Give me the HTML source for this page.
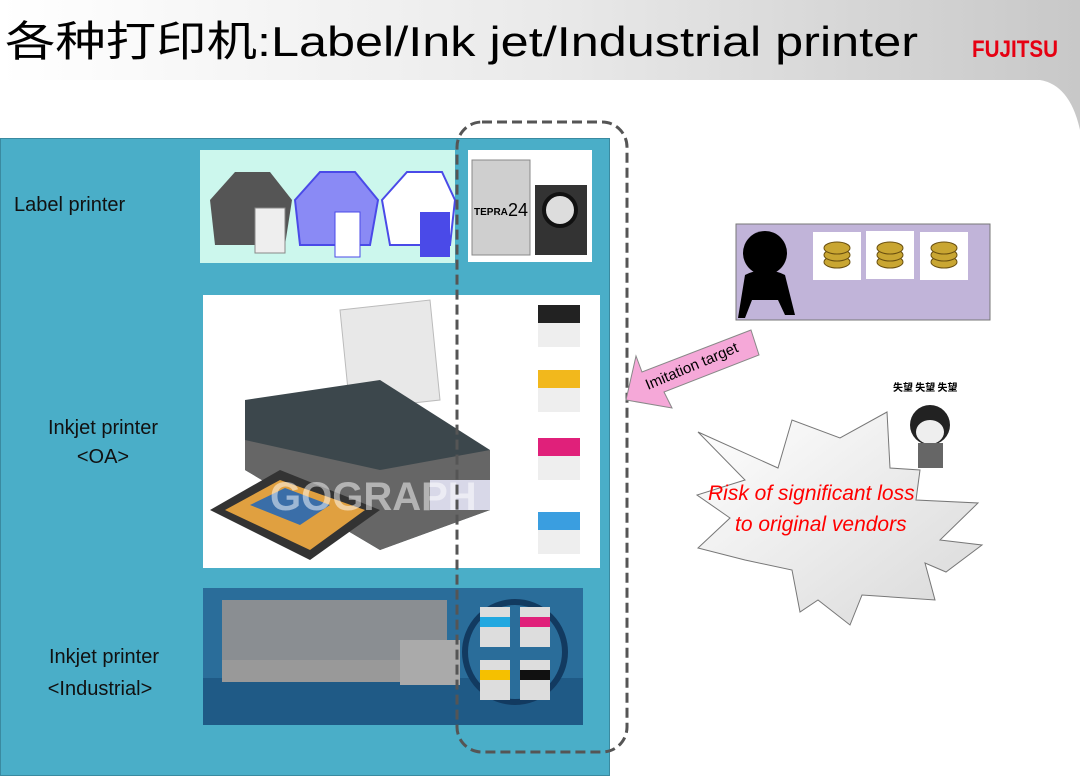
<!DOCTYPE html><html><head><meta charset="utf-8"><style>body{margin:0;width:1080px;height:779px;overflow:hidden;background:#fff}svg{display:block}</style></head><body>
<svg width="1080" height="779" viewBox="0 0 1080 779" xmlns="http://www.w3.org/2000/svg">
<defs>
<linearGradient id="hd" x1="0" x2="1"><stop offset="0" stop-color="#ffffff"/><stop offset="0.5" stop-color="#eaeaea"/><stop offset="1" stop-color="#c8c8c8"/></linearGradient>
<linearGradient id="st" x1="0" y1="0" x2="1" y2="1"><stop offset="0" stop-color="#ffffff"/><stop offset="1" stop-color="#d8d8d8"/></linearGradient>
</defs>
<rect x="0" y="0" width="1080" height="779" fill="#fff"/>
<path d="M0 0H1080V130Q1070 85 1040 80H0Z" fill="url(#hd)"/>
<text x="5" y="56" font-family="'Liberation Sans','Noto Sans CJK SC',sans-serif" font-size="42" textLength="913" lengthAdjust="spacingAndGlyphs">各种打印机:Label/Ink jet/Industrial printer</text>
<text x="972" y="57" font-family="'Liberation Sans',sans-serif" font-weight="bold" font-size="24" fill="#e60012" textLength="86" lengthAdjust="spacingAndGlyphs">FUJITSU</text>
<!-- blue panel -->
<rect x="0.5" y="138.5" width="609" height="637" fill="#4aaec8" stroke="#3a8aa0"/>
<rect x="200" y="150" width="255" height="113" fill="#ccf7ed"/>
<rect x="468" y="150" width="124" height="112" fill="#fff"/>
<!-- label printers -->
<path d="M210 200L235 172H270L292 200L285 245H215Z" fill="#555"/><rect x="255" y="208" width="30" height="45" fill="#eee" stroke="#888"/>
<path d="M295 200L320 172H355L378 200L370 245H300Z" fill="#8a8af5" stroke="#4a4ae8" stroke-width="2"/><rect x="335" y="212" width="25" height="45" fill="#fff" stroke="#4a4ae8"/>
<path d="M382 200L407 172H442L455 200L450 245H390Z" fill="#fff" stroke="#4a4ae8" stroke-width="2"/><rect x="420" y="212" width="30" height="45" fill="#4a4ae8"/>
<rect x="472" y="160" width="58" height="95" fill="#cfcfcf" stroke="#888"/>
<text x="474" y="215" font-family="'Liberation Sans',sans-serif" font-size="10" font-weight="bold">TEPRA</text><text x="508" y="216" font-family="'Liberation Sans',sans-serif" font-size="18">24</text>
<rect x="535" y="185" width="52" height="70" fill="#333"/><circle cx="560" cy="210" r="16" fill="#ddd" stroke="#111" stroke-width="4"/>
<!-- inkjet -->
<rect x="203" y="295" width="397" height="273" fill="#fff"/>
<path d="M340 310L430 300L440 400L350 410Z" fill="#e8e8e8" stroke="#bbb"/>
<path d="M245 400L380 380L490 450L490 510L380 550L245 470Z" fill="#3c474c"/>
<path d="M245 440L380 470L490 450L490 510L380 550L245 470Z" fill="#666"/>
<path d="M210 510L280 470L380 510L310 560Z" fill="#333"/>
<path d="M225 510L280 480L365 510L310 550Z" fill="#e0a040"/>
<path d="M250 505L285 488L330 505L300 525Z" fill="#3a6ea8"/>
<rect x="430" y="480" width="60" height="30" fill="#d8d8e8"/>
<g font-family="'Liberation Sans',sans-serif" font-size="40" font-weight="bold" fill="#fff" fill-opacity="0.5"><text x="270" y="510">GOGRAPH</text></g>
<rect x="538" y="305" width="42" height="42" fill="#eee"/><rect x="538" y="305" width="42" height="18" fill="#222"/>
<rect x="538" y="370" width="42" height="42" fill="#eee"/><rect x="538" y="370" width="42" height="18" fill="#f2b81c"/>
<rect x="538" y="438" width="42" height="42" fill="#eee"/><rect x="538" y="438" width="42" height="18" fill="#e0207a"/>
<rect x="538" y="512" width="42" height="42" fill="#eee"/><rect x="538" y="512" width="42" height="18" fill="#3a9ee0"/>
<!-- industrial -->
<rect x="203" y="588" width="380" height="137" fill="#2a6d9a"/>
<rect x="203" y="678" width="380" height="47" fill="#1f5a86"/>
<rect x="222" y="600" width="225" height="80" fill="#8a8e92"/><rect x="222" y="660" width="230" height="22" fill="#999"/>
<rect x="400" y="640" width="60" height="45" fill="#aaa"/>
<circle cx="515" cy="652" r="50" fill="#2a6d9a" stroke="#123a60" stroke-width="6"/>
<rect x="480" y="607" width="30" height="40" fill="#ddd"/><rect x="480" y="617" width="30" height="10" fill="#22a8e0"/>
<rect x="520" y="607" width="30" height="40" fill="#ddd"/><rect x="520" y="617" width="30" height="10" fill="#e0207a"/>
<rect x="480" y="660" width="30" height="40" fill="#ddd"/><rect x="480" y="670" width="30" height="10" fill="#f5c000"/>
<rect x="520" y="660" width="30" height="40" fill="#ddd"/><rect x="520" y="670" width="30" height="10" fill="#111"/>
<!-- dashed -->
<rect x="457" y="122" width="170" height="630" rx="25" fill="none" stroke="#555" stroke-width="3" stroke-dasharray="10,5"/>
<g font-family="'Liberation Sans',sans-serif" font-size="20" fill="#111">
<text x="14" y="211">Label printer</text>
<text x="103" y="434" text-anchor="middle">Inkjet printer</text><text x="103" y="463" text-anchor="middle">&lt;OA&gt;</text>
<text x="104" y="663" text-anchor="middle">Inkjet printer</text><text x="100" y="695" text-anchor="middle">&lt;Industrial&gt;</text>
</g>
<!-- purple box -->
<rect x="736" y="224" width="254" height="96" fill="#c1b4d9" stroke="#777"/>
<circle cx="765" cy="253" r="22" fill="#000"/><path d="M745 275Q765 265 785 275L795 315H785L778 300H752L745 318H738Z" fill="#000"/>
<rect x="813" y="232" width="48" height="48" fill="#fff"/><rect x="866" y="231" width="48" height="48" fill="#fff"/><rect x="920" y="232" width="48" height="48" fill="#fff"/>
<g fill="#c9a632" stroke="#6a5010"><ellipse cx="837" cy="262" rx="13" ry="6"/><ellipse cx="837" cy="255" rx="13" ry="6"/><ellipse cx="837" cy="248" rx="13" ry="6"/><ellipse cx="890" cy="262" rx="13" ry="6"/><ellipse cx="890" cy="255" rx="13" ry="6"/><ellipse cx="890" cy="248" rx="13" ry="6"/><ellipse cx="944" cy="262" rx="13" ry="6"/><ellipse cx="944" cy="255" rx="13" ry="6"/><ellipse cx="944" cy="248" rx="13" ry="6"/></g>
<!-- arrow -->
<path d="M751 330L642 372L636 356L626 400L672 408L664 392L759 355Z" fill="#f5a8d8" stroke="#888"/>
<text transform="translate(648,390) rotate(-23)" font-family="'Liberation Sans',sans-serif" font-size="15">Imitation target</text>
<!-- starburst -->
<path d="M698 432L778 468L792 420L840 438L887 412L890 468L920 470L916 500L978 503L940 540L982 545L946 572L925 563L935 600L862 595L850 625L818 600L800 612L792 570L745 560L698 548L730 518L697 495L745 480Z" fill="url(#st)" stroke="#777"/>
<g font-family="'Liberation Sans',sans-serif" font-style="italic" font-size="21" fill="#ff0000"><text x="708" y="500">Risk of significant loss</text><text x="735" y="531">to original vendors</text></g>
<text x="893" y="391" font-family="'Noto Sans CJK SC',sans-serif" font-size="10" font-weight="bold">失望 失望 失望</text>
<circle cx="930" cy="425" r="20" fill="#222"/><ellipse cx="930" cy="432" rx="14" ry="12" fill="#eee"/><rect x="918" y="443" width="25" height="25" fill="#666"/>
</svg></body></html>
